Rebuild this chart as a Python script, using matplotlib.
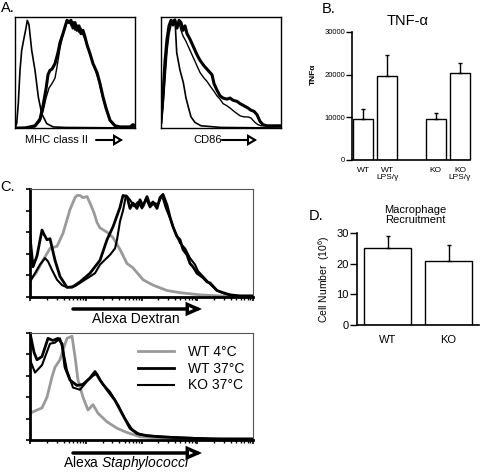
import numpy as np
import matplotlib
matplotlib.use('Agg')
import matplotlib.pyplot as plt
from matplotlib.patches import FancyArrowPatch

plt.rcParams['font.family'] = ['Liberation Sans', 'DejaVu Sans']
plt.rcParams['mathtext.fontset'] = 'custom'
plt.rcParams['mathtext.rm'] = 'Liberation Sans'
plt.rcParams['mathtext.it'] = 'Liberation Sans:italic'

W, H = 480, 472

# ---- A. MHC class II histograms (channel, fraction of max) ----
mhc_iso_x = [0, 1.7, 3.3, 5, 6.7, 9, 11, 12.3, 14, 16.7, 20, 23.3, 26.7, 31.7, 38, 50, 120]
mhc_iso_y = [0.0, 0.04, 0.22, 0.52, 0.7, 0.81, 0.9, 0.97, 0.93, 0.7, 0.52, 0.28, 0.13, 0.04, 0.01, 0.005, 0.0]
mhc_a_x = [0, 10, 20, 25, 28, 31, 33, 35, 37, 40, 43, 45, 48, 50, 52, 54, 56, 58, 60, 62, 64, 66, 68, 70,
           72, 75, 78, 82, 85, 88, 91, 95, 100, 105, 115, 118, 120]
mhc_a_y = [0.0, 0.0, 0.02, 0.08, 0.2, 0.35, 0.48, 0.52, 0.53, 0.58, 0.68, 0.77, 0.85, 0.91, 0.97, 0.95,
           0.97, 0.9, 0.95, 0.88, 0.92, 0.85, 0.88, 0.82, 0.75, 0.67, 0.58, 0.5, 0.4, 0.28, 0.18, 0.07,
           0.02, 0.01, 0.01, 0.03, 0.02]
mhc_b_x = [0, 20, 25, 28, 31, 34, 37, 40, 42, 45, 48, 50, 52, 54, 56, 58, 60, 62, 64, 66, 68, 70, 73,
           76, 80, 84, 87, 90, 94, 98, 105, 120]
mhc_b_y = [0.0, 0.01, 0.06, 0.15, 0.27, 0.36, 0.4, 0.45, 0.55, 0.72, 0.84, 0.9, 0.95, 0.97, 0.92, 0.96,
           0.88, 0.93, 0.86, 0.9, 0.84, 0.8, 0.72, 0.64, 0.53, 0.42, 0.3, 0.2, 0.09, 0.03, 0.01, 0.01]

# ---- A. CD86 histograms ----
cd_iso_x = [0, 2, 4, 6, 8, 10, 12, 14, 15.7, 19, 22.3, 25, 27.3, 30, 34, 40, 60, 120]
cd_iso_y = [0.03, 0.2, 0.45, 0.7, 0.85, 0.93, 0.97, 0.98, 0.68, 0.52, 0.41, 0.27, 0.19, 0.1, 0.05, 0.02,
            0.005, 0.0]
cd_a_x = [0, 2, 4, 6, 8, 10, 12, 14, 16, 18, 20, 22, 24, 26, 29, 33, 36, 39, 43, 46, 49, 51, 53, 56,
          59, 62, 66, 69, 72, 76, 79, 83, 87, 90, 93, 96, 99, 102, 106, 120]
cd_a_y = [0.05, 0.3, 0.6, 0.8, 0.92, 0.97, 0.93, 0.97, 0.9, 0.97, 0.95, 0.88, 0.92, 0.85, 0.8, 0.72,
          0.66, 0.61, 0.56, 0.53, 0.5, 0.48, 0.4, 0.34, 0.29, 0.27, 0.26, 0.27, 0.25, 0.24, 0.22, 0.2,
          0.18, 0.16, 0.15, 0.12, 0.06, 0.03, 0.02, 0.02]
cd_b_x = [0, 2, 4, 6, 8, 10, 12, 14, 16, 18, 20, 22, 25, 29, 33, 36, 39, 43, 46, 49, 53, 56, 59, 62,
          66, 69, 73, 76, 79, 83, 87, 90, 94, 97, 100, 120]
cd_b_y = [0.03, 0.25, 0.55, 0.78, 0.9, 0.96, 0.92, 0.97, 0.91, 0.95, 0.88, 0.83, 0.78, 0.7, 0.62, 0.56,
          0.5, 0.45, 0.42, 0.38, 0.33, 0.29, 0.26, 0.22, 0.2, 0.18, 0.15, 0.13, 0.11, 0.1, 0.1, 0.09,
          0.05, 0.03, 0.02, 0.02]

# ---- B. TNF-alpha ----
tnf_labels = ['WT', 'WT\nLPS/\u03b3', 'KO', 'KO\nLPS/\u03b3']
tnf_pos = [0, 1, 3, 4]
tnf_mean = [9500, 19600, 9700, 20300]
tnf_err = [2500, 5100, 1400, 2500]

# ---- C. Alexa Dextran uptake ----
dex_wt4_x = [0, 6, 13, 20, 27, 33, 40, 45, 47, 50, 53, 57, 60, 64, 67, 70, 77, 83, 90, 97, 103, 113,
             123, 137, 150, 170, 190, 223]
dex_wt4_y = [0.16, 0.22, 0.34, 0.45, 0.47, 0.59, 0.81, 0.92, 0.94, 0.94, 0.92, 0.93, 0.87, 0.78, 0.69,
             0.64, 0.6, 0.55, 0.44, 0.31, 0.27, 0.16, 0.11, 0.06, 0.04, 0.02, 0.01, 0.0]
dex_wt37_x = [0, 3, 7, 12, 14, 17, 20, 25, 30, 37, 42, 50, 60, 70, 77, 83, 90, 93, 97, 100, 103, 107,
              110, 113, 117, 120, 123, 127, 130, 133, 137, 140, 143, 147, 150, 153, 157, 160, 163, 167,
              170, 173, 177, 180, 187, 193, 200, 210, 223]
dex_wt37_y = [0.56, 0.28, 0.38, 0.62, 0.58, 0.53, 0.54, 0.34, 0.19, 0.09, 0.09, 0.14, 0.22, 0.34, 0.53,
              0.65, 0.83, 0.94, 0.93, 0.82, 0.87, 0.82, 0.9, 0.84, 0.93, 0.85, 0.88, 0.82, 0.92, 0.95,
              0.85, 0.74, 0.65, 0.56, 0.53, 0.44, 0.39, 0.31, 0.28, 0.22, 0.2, 0.18, 0.14, 0.13, 0.06,
              0.04, 0.02, 0.01, 0.01]
dex_ko37_x = [0, 5, 10, 15, 18, 22, 27, 32, 37, 45, 55, 65, 70, 80, 85, 87, 90, 93, 96, 100, 104, 108,
              112, 116, 120, 124, 128, 132, 136, 140, 145, 150, 155, 160, 165, 168, 172, 176, 180, 187,
              195, 205, 223]
dex_ko37_y = [0.14, 0.22, 0.3, 0.36, 0.33, 0.25, 0.16, 0.11, 0.09, 0.1, 0.16, 0.22, 0.3, 0.39, 0.45,
              0.53, 0.7, 0.8, 0.94, 0.9, 0.84, 0.88, 0.82, 0.91, 0.83, 0.87, 0.86, 0.94, 0.82, 0.73, 0.6,
              0.5, 0.45, 0.36, 0.3, 0.24, 0.2, 0.16, 0.12, 0.06, 0.03, 0.01, 0.01]

# ---- C. Alexa Staphylococci uptake ----
sta_wt4_x = [0, 7, 12, 17, 22, 25, 30, 33, 37, 42, 45, 48, 53, 58, 63, 68, 77, 87, 97, 110, 127, 150, 223]
sta_wt4_y = [0.25, 0.28, 0.3, 0.4, 0.59, 0.68, 0.75, 0.84, 0.95, 0.97, 0.78, 0.56, 0.4, 0.28, 0.33, 0.25,
             0.17, 0.11, 0.07, 0.03, 0.02, 0.01, 0.005]
sta_wt37_x = [0, 4, 7, 12, 18, 23, 28, 32, 35, 40, 47, 53, 60, 65, 70, 77, 85, 93, 100, 107, 117, 130,
              150, 180, 223]
sta_wt37_y = [1.0, 0.82, 0.75, 0.78, 0.95, 0.93, 0.95, 0.9, 0.68, 0.56, 0.51, 0.52, 0.58, 0.64, 0.56,
              0.47, 0.37, 0.23, 0.11, 0.06, 0.04, 0.03, 0.02, 0.01, 0.01]
sta_ko37_x = [0, 5, 12, 20, 25, 30, 33, 37, 43, 50, 58, 63, 67, 72, 80, 88, 95, 102, 110, 120, 135, 160,
              190, 223]
sta_ko37_y = [0.75, 0.63, 0.7, 0.9, 0.91, 0.95, 0.84, 0.65, 0.49, 0.47, 0.56, 0.6, 0.62, 0.53, 0.45,
              0.33, 0.2, 0.1, 0.05, 0.04, 0.03, 0.02, 0.01, 0.01]

# ---- D. Macrophage recruitment ----
rec_labels = ['WT', 'KO']
rec_mean = [25.0, 20.8]
rec_err = [4.1, 5.2]


def box(l, t, r, b):
    # pixel box -> figure fraction rect
    return [l / W, 1 - b / H, (r - l) / W, (b - t) / H]


def arrow(x0, x1, y, lw, hl, hw):
    a = FancyArrowPatch((x0 / W, 1 - y / H), (x1 / W, 1 - y / H), transform=fig.transFigure,
                        arrowstyle='-|>,head_length=%s,head_width=%s' % (hl, hw),
                        mutation_scale=10, lw=lw, fc='white', ec='black', joinstyle='miter',
                        shrinkA=0, shrinkB=0)
    fig.add_artist(a)


def ftext(x, y, s, **kw):
    fig.text(x / W, 1 - y / H, s, **kw)


fig = plt.figure(figsize=(4.8, 4.72), dpi=100)

# Panel A
for rect, iso, cur_a, cur_b in [
        (box(15, 17, 135, 128), (mhc_iso_x, mhc_iso_y), (mhc_a_x, mhc_a_y), (mhc_b_x, mhc_b_y)),
        (box(161, 17, 281, 128), (cd_iso_x, cd_iso_y), (cd_a_x, cd_a_y), (cd_b_x, cd_b_y))]:
    ax = fig.add_axes(rect)
    ax.plot(*iso, color='black', lw=1.2)
    ax.plot(*cur_a, color='black', lw=2.2)
    ax.plot(*cur_b, color='black', lw=1.0)
    ax.set_xlim(0, 120)
    ax.set_ylim(0, 1.0)
    ax.set_xticks([])
    ax.set_yticks([])
    for s in ax.spines.values():
        s.set_linewidth(1.0)

ftext(1, 1, 'A.', fontsize=10.5, va='top')
ftext(25, 140, 'MHC class II', fontsize=8, va='center')
arrow(96, 123, 140, 1.5, 0.5, 0.3)
ftext(193, 140, 'CD86', fontsize=8, va='center')
arrow(222, 257, 140, 1.5, 0.5, 0.3)

# Panel B
axb = fig.add_axes(box(352, 32, 472, 160))
axb.bar(tnf_pos, tnf_mean, width=0.83, color='white', edgecolor='black', lw=1.0)
axb.errorbar(tnf_pos, tnf_mean, yerr=[[0] * 4, tnf_err], fmt='none', ecolor='black',
             elinewidth=1.0, capsize=1.5, capthick=1.0)
axb.set_xlim(-0.46, 4.5)
axb.set_ylim(0, 30000)
axb.set_yticks([0, 10000, 20000, 30000])
axb.set_xticks(tnf_pos)
axb.set_xticklabels(tnf_labels, fontsize=6, linespacing=0.95)
axb.tick_params(axis='x', length=0, pad=5)
axb.tick_params(axis='y', labelsize=5.5, length=4, width=1.0, pad=1)
axb.spines['top'].set_visible(False)
axb.spines['right'].set_visible(False)
axb.spines['bottom'].set_bounds(-0.46, 4.42)
for s in ['left', 'bottom']:
    axb.spines[s].set_linewidth(1.2)
ftext(322, 2, 'B.', fontsize=10.5, va='top')
ftext(408, 21, 'TNF-\u03b1', fontsize=10.5, ha='center', va='center')
ftext(313, 74, 'TNF\u03b1', fontsize=6, fontweight='bold', rotation=90, ha='center', va='center')

# Panel C
dec = 223 / 4.0
major = [dec * k for k in range(5)]
minor = [dec * (k + np.log10(m)) for k in range(4) for m in range(2, 10)]
panels = [(box(30, 189, 253, 297), (dex_wt4_x, dex_wt4_y), (dex_wt37_x, dex_wt37_y), (dex_ko37_x, dex_ko37_y)),
          (box(30, 333, 253, 440), (sta_wt4_x, sta_wt4_y), (sta_wt37_x, sta_wt37_y), (sta_ko37_x, sta_ko37_y))]
axes_c = []
for rect, wt4, wt37, ko37 in panels:
    ax = fig.add_axes(rect)
    ax.plot(*wt4, color='#9a9a9a', lw=2.0, label='WT 4\u00b0C')
    ax.plot(*wt37, color='black', lw=2.0, label='WT 37\u00b0C')
    ax.plot(*ko37, color='black', lw=1.5, label='KO 37\u00b0C')
    ax.set_xlim(0, 223)
    ax.set_ylim(0, 1.0)
    ax.set_xticks(major)
    ax.set_xticks(minor, minor=True)
    ax.set_yticks([0, 0.2, 0.4, 0.6, 0.8, 1.0])
    ax.set_xticklabels([])
    ax.set_yticklabels([])
    ax.tick_params(axis='both', which='major', direction='out', length=3, width=1.2)
    ax.tick_params(axis='x', which='minor', direction='out', length=2, width=1.0)
    for s in ['left', 'bottom']:
        ax.spines[s].set_linewidth(2.0)
    for s in ['top', 'right']:
        ax.spines[s].set_linewidth(0.8)
        ax.spines[s].set_color('#555555')
    axes_c.append(ax)

leg = axes_c[1].legend(loc='upper left', bbox_to_anchor=(0.44, 0.98), frameon=False, fontsize=10,
                       handlelength=2.6, handletextpad=1.0, labelspacing=0.2, borderpad=0.2)

ftext(0, 187, 'C.', fontsize=10.5, va='center')
arrow(73, 202, 309, 2.5, 0.75, 0.33)
ftext(136, 319, 'Alexa Dextran', fontsize=10, ha='center', va='center')
arrow(73, 202, 453, 2.5, 0.75, 0.33)
ftext(126, 463, r'Alexa $\mathit{Staphylococci}$', fontsize=10, ha='center', va='center')

# Panel D
axd = fig.add_axes(box(357, 233, 479, 325))
axd.bar([0, 1], rec_mean, width=0.77, color='white', edgecolor='black', lw=1.0)
axd.errorbar([0, 1], rec_mean, yerr=[[0, 0], rec_err], fmt='none', ecolor='black',
             elinewidth=1.0, capsize=1.5, capthick=1.0)
axd.set_xlim(-0.5, 1.5)
axd.set_ylim(0, 30)
axd.set_yticks([0, 10, 20, 30])
axd.set_xticks([0, 1])
axd.set_xticklabels(rec_labels, fontsize=8)
axd.tick_params(axis='x', length=0, pad=7)
axd.tick_params(axis='y', labelsize=8, length=5, width=1.0, pad=1)
axd.spines['top'].set_visible(False)
axd.spines['right'].set_visible(False)
for s in ['left', 'bottom']:
    axd.spines[s].set_linewidth(1.2)
axd.set_ylabel(r'Cell Number  (10$^6$)', fontsize=7.5, labelpad=3)
ftext(309, 216, 'D.', fontsize=10.5, va='center')
ftext(415, 215, 'Macrophage\nRecruitment', fontsize=8, ha='center', va='center', linespacing=1.05)

fig.savefig('out.png', dpi=100)
